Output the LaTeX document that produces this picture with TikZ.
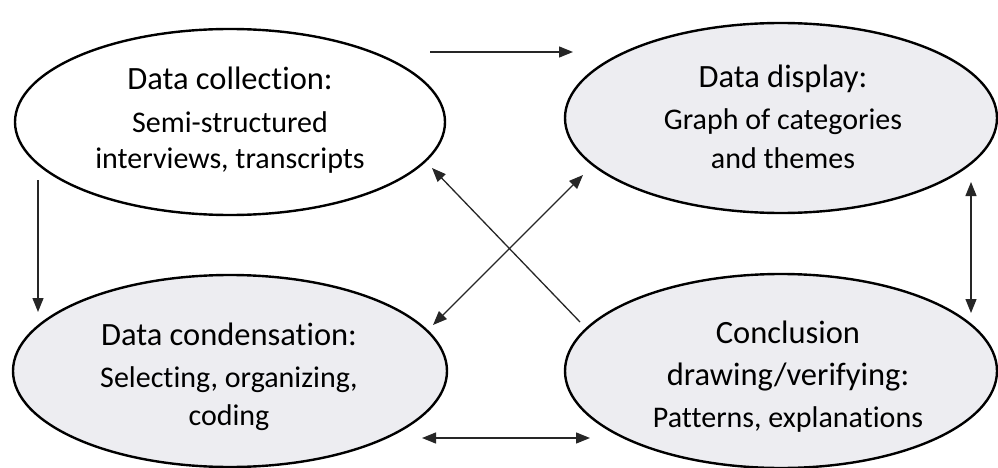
\documentclass[tikz,border=0pt]{standalone}
\usepackage{fontspec}
\setmainfont[Ligatures=NoCommon]{Carlito}
\usetikzlibrary{arrows.meta,shapes.geometric}
\definecolor{bubblefill}{HTML}{EDEDF1}
\definecolor{arrowgray}{HTML}{262626}
\begin{document}
\begin{tikzpicture}[x=1pt,y=-1pt,
  bubble/.style={ellipse,draw=black,line width=2.4pt,inner sep=0pt,fill=white},
  shadedbubble/.style={bubble,fill=bubblefill},
  ttl/.style={anchor=base,inner sep=0pt,font=\fontsize{32.5}{39}\selectfont},
  subtxt/.style={anchor=base,inner sep=0pt,font=\fontsize{30}{36}\selectfont},
  tip/.style={},
  arr/.style={draw=arrowgray,line width=1.3pt,-{Triangle[length=14pt,width=11pt]}},
  darr/.style={draw=arrowgray,line width=1.3pt,{Triangle[length=14pt,width=11pt]}-{Triangle[length=14pt,width=11pt]}}]
\useasboundingbox[fill=white] (0,0) rectangle (998,468);

% ellipses
\node[bubble,minimum width=430pt,minimum height=186pt] (coll) at (230,122) {};
\node[shadedbubble,minimum width=432pt,minimum height=190pt] (disp) at (781,118) {};
\node[shadedbubble,minimum width=434pt,minimum height=192pt] (cond) at (230,371) {};
\node[shadedbubble,minimum width=432pt,minimum height=194pt] (concl) at (781,371) {};

% texts
\node[ttl] (t1a) at (230,90) {Data collection:};
\node[subtxt] (t1b) at (230,132) {Semi-structured};
\node[subtxt] (t1c) at (230,168) {interviews, transcripts};

\node[ttl] (t2a) at (783,88) {Data display:};
\node[subtxt] (t2b) at (783,130) {Graph of categories};
\node[subtxt] (t2c) at (783,168) {and themes};

\node[ttl] (t3a) at (229,345) {Data condensation:};
\node[subtxt] (t3b) at (229,387) {Selecting, organizing,};
\node[subtxt] (t3c) at (229,425) {coding};

\node[ttl] (t4a) at (788,343) {Conclusion};
\node[ttl] (t4b) at (788,385) {drawing/verifying:};
\node[subtxt] (t4c) at (788,427) {Patterns, explanations};

% connector end points
\coordinate (topS) at (430,52);
\coordinate (topE) at (573,52);
\coordinate (leftS) at (38,180);
\coordinate (leftE) at (38,312);
\coordinate (rightS) at (971,182);
\coordinate (rightE) at (971,313);
\coordinate (botS) at (422,438);
\coordinate (botE) at (590,438);
\coordinate (dgaS) at (580,322);
\coordinate (dgaE) at (432,168);
\coordinate (dgbS) at (433,325);
\coordinate (dgbE) at (583,175);

\draw[arr] (topS) -- (topE);
\draw[arr] (leftS) -- (leftE);
\draw[darr] (rightS) -- (rightE);
\draw[darr] (botS) -- (botE);
\draw[arr] (dgaS) -- (dgaE);
\draw[darr] (dgbS) -- (dgbE);
\end{tikzpicture}
\end{document}
